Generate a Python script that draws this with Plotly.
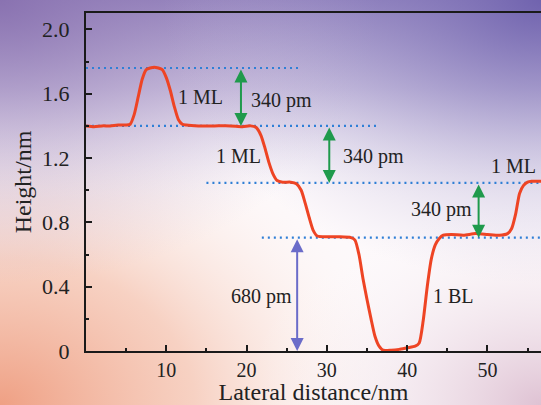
import base64
import plotly.graph_objects as go

# ---- data ----
profile_x = [0, 1, 2, 3, 4, 5, 5.5, 6.0, 6.5, 7.0, 7.5, 8.5, 9.5, 10.0, 10.5, 11.0, 11.5, 12.0, 12.5,
             14, 16, 18, 19.5, 20.5, 21.2, 21.8, 22.3, 22.8, 23.3, 23.8, 24.5, 25.5, 26.2, 26.8, 27.3,
             27.8, 28.3, 28.8, 30, 31.5, 33, 33.5, 34, 34.5, 35, 35.5, 36, 36.5, 37, 38, 39, 40, 41,
             41.5, 42, 42.5, 43, 43.5, 44, 44.5, 45.5, 47, 48.5, 50, 51.5, 52.5, 53, 53.5, 54, 54.5,
             55, 55.5, 56.7]
profile_y = [1.40, 1.395, 1.40, 1.40, 1.405, 1.405, 1.41, 1.47, 1.58, 1.69, 1.75, 1.765, 1.75, 1.70,
             1.62, 1.52, 1.44, 1.41, 1.405, 1.40, 1.40, 1.40, 1.395, 1.40, 1.39, 1.34, 1.26, 1.17,
             1.10, 1.06, 1.05, 1.05, 1.04, 1.00, 0.92, 0.83, 0.75, 0.715, 0.71, 0.71, 0.705, 0.69,
             0.60, 0.45, 0.32, 0.20, 0.09, 0.03, 0.005, 0.005, 0.01, 0.02, 0.03, 0.05, 0.19, 0.40,
             0.57, 0.66, 0.70, 0.72, 0.725, 0.72, 0.73, 0.725, 0.72, 0.73, 0.76, 0.85, 0.98, 1.03,
             1.05, 1.055, 1.055]

guide_levels = [1.76, 1.40, 1.045, 0.705]
guide_starts = [0, 0, 15.0, 21.9]
guide_ends = [26.6, 36.2, 56.7, 56.7]

arrow_x = [19.3, 30.3, 48.9, 26.3]
arrow_top = [1.76, 1.40, 1.045, 0.705]
arrow_bottom = [1.40, 1.045, 0.705, 0.0]
arrow_colors = ["#1f9a4c", "#1f9a4c", "#1f9a4c", "#6b6cc9"]

label_text = ["1 ML", "340 pm", "1 ML", "340 pm", "1 ML", "340 pm", "680 pm", "1 BL"]
label_x = [14.2, 24.4, 19.05, 35.8, 53.3, 44.3, 21.8, 45.8]
label_y = [1.58, 1.56, 1.21, 1.21, 1.15, 0.88, 0.34, 0.34]

x_tickvals = [10, 20, 30, 40, 50]
x_ticktext = ["10", "20", "30", "40", "50"]
y_tickvals = [0, 0.4, 0.8, 1.2, 1.6, 2.0]
y_ticktext = ["0", "0.4", "0.8", "1.2", "1.6", "2.0"]

W, H = 541, 405
ML, MR, MT, MB = 86, 0, 13, 54
PW, PH = W - ML - MR, H - MT - MB

FONT = "Liberation Serif, Times New Roman, serif"

# ---- gradient background (SVG) ----
svg = f"""<svg xmlns='http://www.w3.org/2000/svg' width='{W}' height='{H}' viewBox='0 0 {W} {H}' preserveAspectRatio='none'>
<defs>
<linearGradient id='top' x1='0' y1='0' x2='0' y2='1'>
<stop offset='0' stop-color='#7d6cb2' stop-opacity='0.95'/>
<stop offset='0.22' stop-color='#9a8cc4' stop-opacity='0.5'/>
<stop offset='0.5' stop-color='#ffffff' stop-opacity='0'/>
</linearGradient>
<radialGradient id='bl' cx='0' cy='1' r='0.8'>
<stop offset='0' stop-color='#efa084' stop-opacity='1'/>
<stop offset='0.45' stop-color='#f5c4b0' stop-opacity='0.75'/>
<stop offset='1' stop-color='#ffffff' stop-opacity='0'/>
</radialGradient>
<radialGradient id='tl' cx='0' cy='0' r='0.7'>
<stop offset='0' stop-color='#8a72b0' stop-opacity='0.9'/>
<stop offset='1' stop-color='#c9b8d8' stop-opacity='0'/>
</radialGradient>
<radialGradient id='tr' cx='1' cy='0' r='0.7'>
<stop offset='0' stop-color='#6f62ae' stop-opacity='0.95'/>
<stop offset='1' stop-color='#c8c0e0' stop-opacity='0'/>
</radialGradient>
<radialGradient id='br' cx='1' cy='1' r='0.55'>
<stop offset='0' stop-color='#d9b8cc' stop-opacity='0.85'/>
<stop offset='1' stop-color='#ffffff' stop-opacity='0'/>
</radialGradient>
</defs>
<rect width='{W}' height='{H}' fill='#fdf9fb'/>
<rect width='{W}' height='{H}' fill='url(#bl)'/>
<rect width='{W}' height='{H}' fill='url(#br)'/>
<rect width='{W}' height='{H}' fill='url(#top)'/>
<rect width='{W}' height='{H}' fill='url(#tl)'/>
<rect width='{W}' height='{H}' fill='url(#tr)'/>
</svg>"""
bg_uri = "data:image/svg+xml;base64," + base64.b64encode(svg.encode()).decode()

fig = go.Figure()

# dotted guide lines
for lvl, x0, x1 in zip(guide_levels, guide_starts, guide_ends):
    fig.add_trace(go.Scatter(x=[x0, x1], y=[lvl, lvl], mode="lines",
                             line=dict(color="#2f7fd6", width=2.2, dash="2px,4px"),
                             hoverinfo="skip", showlegend=False))

# height profile
fig.add_trace(go.Scatter(x=profile_x, y=profile_y, mode="lines",
                         line=dict(color="#ee4424", width=3, shape="spline", smoothing=0.6),
                         showlegend=False))

annotations = []
for xa, yt, yb, c in zip(arrow_x, arrow_top, arrow_bottom, arrow_colors):
    annotations.append(dict(x=xa, y=yb, ax=xa, ay=yt, xref="x", yref="y", axref="x", ayref="y",
                            text="", showarrow=True, arrowhead=2, arrowside="end+start",
                            arrowsize=1.3, arrowwidth=2, arrowcolor=c))
for t, xl, yl in zip(label_text, label_x, label_y):
    annotations.append(dict(x=xl, y=yl, xref="x", yref="y", text=t, showarrow=False,
                            font=dict(family=FONT, size=20, color="#222222")))

fig.add_layout_image(dict(source=bg_uri, xref="paper", yref="paper",
                          x=-ML / PW, y=1 + MT / PH, sizex=W / PW, sizey=H / PH,
                          xanchor="left", yanchor="top", sizing="stretch", layer="below"))

fig.update_layout(
    width=W, height=H,
    margin=dict(l=ML, r=MR, t=MT, b=MB, autoexpand=False),
    paper_bgcolor="rgba(0,0,0,0)", plot_bgcolor="rgba(0,0,0,0)",
    font=dict(family=FONT, color="#222222"),
    annotations=annotations,
    xaxis=dict(range=[0, 56.67], showgrid=False, zeroline=False, automargin=False,
               showline=True, linecolor="#1a1a1a", linewidth=2, mirror=True,
               ticks="inside", ticklen=6, tickwidth=1.5, tickcolor="#1a1a1a",
               tickvals=x_tickvals, ticktext=x_ticktext,
               tickfont=dict(family=FONT, size=20, color="#222222"),
               ticklabelstandoff=0,
               minor=dict(ticks="inside", ticklen=3, tickwidth=1.5, dtick=5, tick0=0,
                          tickcolor="#1a1a1a", showgrid=False),
               title=dict(text="Lateral distance/nm", standoff=1,
                          font=dict(family=FONT, size=24, color="#222222"))),
    yaxis=dict(range=[0, 2.102], showgrid=False, zeroline=False, automargin=False,
               showline=True, linecolor="#1a1a1a", linewidth=2, mirror=False,
               ticks="inside", ticklen=6, tickwidth=1.5, tickcolor="#1a1a1a",
               tickvals=y_tickvals, ticktext=y_ticktext,
               tickfont=dict(family=FONT, size=22, color="#222222"),
               ticklabelstandoff=10,
               minor=dict(ticks="inside", ticklen=3, tickwidth=1.5, dtick=0.2, tick0=0,
                          tickcolor="#1a1a1a", showgrid=False),
               title=dict(text="Height/nm", standoff=4,
                          font=dict(family=FONT, size=24, color="#222222"))),
)

fig.write_html("out.html", config={"displayModeBar": False},
               post_script="document.body.style.margin='0';document.body.style.overflow='hidden';")
